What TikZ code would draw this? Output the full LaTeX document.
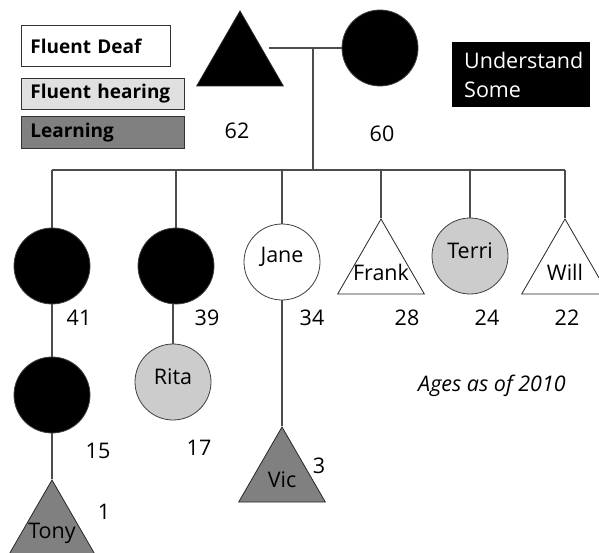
\documentclass[tikz,border=0pt]{standalone}
\usepackage{fontspec}
\setmainfont{Open Sans}
\usetikzlibrary{shapes.geometric,positioning}

\begin{document}
\begin{tikzpicture}[
    x=1pt, y=-1pt,
    every node/.style={font=\fontsize{21.5}{25}\selectfont},
    female/.style={
        circle,
        inner sep=0pt,
        minimum size=76pt,
        draw=black!75,
        fill=#1,
        line width=0.8pt
    },
    male/.style={
        regular polygon,
        regular polygon sides=3,
        inner sep=0pt,
        minimum size=100pt,
        draw=black!85,
        fill=#1,
        line width=0.8pt
    },
    up/.style={label={[yshift=5pt]center:#1}},
    down/.style={label={[yshift=-3pt]center:#1}},
    key/.style={
        rectangle,
        draw=black!80,
        fill=#1,
        line width=0.8pt,
        anchor=north west,
        inner xsep=9pt,
        align=left,
        font=\fontsize{19}{22}\selectfont\bfseries
    },
    age/.style={font=\fontsize{21.5}{25}\selectfont},
    line/.style={draw=black!70, line width=1.1pt}
]
\fill[white] (0,0) rectangle (599,553);
\useasboundingbox (0,0) rectangle (599,553);
\clip (0,0) rectangle (599,553);

% Key
\node[key=white, text width=131pt, minimum height=41pt] (kdeaf) at (21,25) {Fluent Deaf};
\node[key=black!12, text width=145pt, minimum height=31pt] (khearing) at (21,78) {Fluent hearing};
\node[key=black!50, text width=145pt, minimum height=32pt] (klearning) at (21,116) {Learning};
\node[rectangle, fill=black, text=white, anchor=north west, inner xsep=12pt,
      text width=114pt, minimum height=65pt, align=left,
      font=\fontsize{21.5}{29}\selectfont] (ksome) at (452,42) {Understand\\Some};

% Parents
\node[male=black] (father) at (240,61) {};
\node[female=black] (mother) at (380,48) {};
\node[age] (a62) at (237,131) {62};
\node[age] (a60) at (382,134) {60};

% Children
\node[female=black] (dA) at (52,266) {};
\node[female=black] (dB) at (176,266) {};
\node[female=white, up=Jane] (jane) at (282,262) {};
\node[male=white, down=Frank] (frank) at (381,269) {};
\node[female=black!20, up=Terri] (terri) at (470,256) {};
\node[male=white, down=Will] (will) at (565,269) {};

\node[age] (a41) at (79,318) {41};
\node[age] (a39) at (207,318) {39};
\node[age] (a34) at (312,318) {34};
\node[age] (a28) at (407,318) {28};
\node[age] (a24) at (487,318) {24};
\node[age] (a22) at (567,318) {22};

% Grandchildren
\node[female=black] (gA) at (52,395) {};
\node[female=black!20, up=Rita] (rita) at (173,382) {};
\node[male=black!50, down=Vic] (vic) at (282,477) {};
\node[male=black!50, down=Tony] (tony) at (52,530) {};

\node[age] (a15) at (98,451) {15};
\node[age] (a17) at (199,448) {17};
\node[age] (a3) at (319,466) {3};
\node[age] (a1) at (104,512) {1};

\node[font=\fontsize{21.5}{25}\selectfont\itshape] (note) at (492,386) {Ages as of 2010};

% Lines of descent
\coordinate (union) at (313,48);
\coordinate (sibs) at (313,170);
\draw[line] (father.east |- mother.west) -- (mother.west);
\draw[line] (union) -- (sibs);
\draw[line] (dA |- sibs) -- (will |- sibs);
\foreach \kid in {dA,dB,jane,frank,terri,will}
    \draw[line] (\kid |- sibs) -- (\kid.north);
\draw[line] (dA.south) -- (gA.north);
\draw[line] (gA.south) -- (tony.north);
\draw[line] (rita.north |- dB.south) -- (rita.north);
\draw[line] (jane.south) -- (vic.north);

\end{tikzpicture}
\end{document}
